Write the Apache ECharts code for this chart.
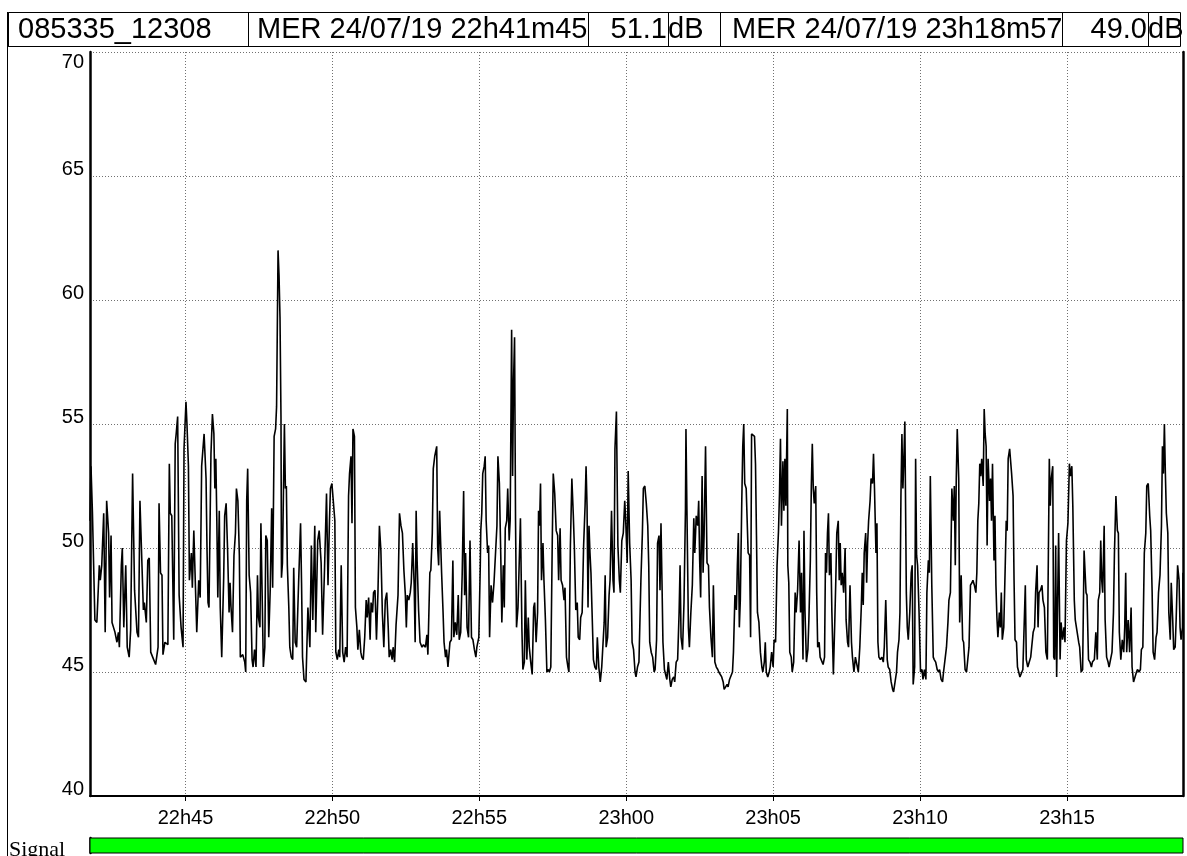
<!DOCTYPE html>
<html>
<head>
<meta charset="utf-8">
<script src="https://cdn.jsdelivr.net/npm/echarts@6/dist/echarts.min.js"></script>
<style>
  html, body { margin: 0; padding: 0; background: #ffffff; }
  #chart { width: 1187px; height: 856px; }
</style>
</head>
<body>
<div id="chart"></div>
<script>
// Recording identity and cursor readouts
const stationId = '085335_12308';
const measureName = 'MER';
const recordDate = '24/07/19';
const startClock = [22, 41, 45];
const endClock = [23, 18, 57];
const cursorValues = [51.1, 49.0];
const unitLabel = 'dB';
const signalLabel = 'Signal';

// Value axis and time ticks
const yMin = 40, yMax = 70, yStep = 5;
const timeTicks = ['22h45', '22h50', '22h55', '23h00', '23h05', '23h10', '23h15'];

// MER readings: [seconds since start, dB]
const merReadings = [
  [0,51.1],[2,53.3],[5,51.4],[7,51.4],[10,47.1],[14,47.0],[19,49.3],[21,48.7],[24,49.3],[28,51.4],
  [31,46.6],[34,51.9],[38,50.6],[40,48.0],[43,50.5],[45,47.0],[48,46.8],[51,46.6],[55,46.2],[58,46.6],
  [60,46.0],[64,49.3],[66,50.0],[69,46.8],[73,49.3],[76,46.0],[80,45.6],[83,46.7],[87,53.0],[91,48.3],
  [96,46.6],[99,46.4],[102,51.9],[106,51.9],[109,47.5],[111,47.8],[115,47.0],[118,49.5],[121,49.6],[124,45.8],
  [128,45.6],[134,45.3],[139,46.0],[141,51.8],[144,49.0],[147,48.9],[149,45.7],[153,46.2],[159,46.1],[162,53.4],
  [164,51.4],[167,51.3],[171,46.3],[174,54.2],[176,54.6],[179,55.3],[182,48.1],[186,46.8],[190,46.0],[192,54.0],
  [196,55.9],[198,55.0],[201,53.3],[203,48.7],[207,49.8],[209,48.4],[212,50.7],
  [218,46.6],[222,48.7],[225,48.0],[228,53.3],[233,54.6],[237,52.8],[239,49.9],[241,47.8],[243,47.6],[247,53.8],
  [250,55.4],[253,54.6],[255,52.4],[257,53.6],[259,51.1],[261,48.0],[264,51.5],[266,47.6],[269,45.6],[273,48.8],
  [275,51.3],[278,51.8],[281,49.9],[284,47.4],[286,48.6],[288,47.6],[291,46.6],[294,49.7],[297,50.6],[299,52.4],
  [302,51.9],[305,49.7],[307,45.6],[312,45.7],[316,45.4],[318,45.0],[320,51.9],[322,53.2],[325,48.9],[328,48.2],
  [331,45.5],[333,45.2],[336,45.9],[339,45.2],[342,48.9],[344,47.2],[347,46.8],[349,51.0],[352,47.6],[354,45.2],
  [357,46.0],[359,50.5],[362,50.3],[365,46.4],[368,48.3],[371,51.6],[373,48.4],[376,54.5],[379,54.8],[381,55.7],
  [384,62.0],[386,61.0],[388,59.3],[390,55.3],[391,48.8],[393,49.4],[397,55.0],[399,52.4],[401,52.5],[403,49.3],
  [406,47.6],[408,46.0],[411,45.6],[414,45.5],[416,49.2],[419,46.2],[422,46.0],[426,48.6],[430,51.0],[432,48.6],
  [434,45.6],[437,44.7],[441,44.6],
  [445,47.6],[449,46.0],[452,50.1],[455,47.1],[459,50.9],[461,46.6],[465,50.3],[468,50.7],[472,49.4],[475,46.5],
  [479,49.2],[483,52.2],[486,48.5],[489,51.1],[491,52.4],[494,52.6],[497,52.6],[500,51.1],[502,45.8],[505,45.5],
  [508,45.9],[510,45.6],[513,49.3],[516,45.8],[519,45.4],[522,46.0],[525,45.6],[528,52.1],[530,53.0],[533,53.7],
  [535,51.0],[537,54.8],[540,54.5],[542,47.6],[545,46.8],[547,45.9],[550,46.7],[553,45.8],[555,45.6],[558,45.5],
  [561,46.4],[564,47.9],[566,47.2],[569,48.0],[572,46.3],[574,47.8],[577,47.4],[579,48.2],[582,48.3],[585,46.3],
  [588,48.2],[591,50.9],[594,49.9],[597,47.4],[600,46.0],[603,47.9],[606,48.2],[609,46.8],[611,45.6],[614,45.9],
  [617,45.5],[619,46.0],[622,45.4],[625,46.9],[629,48.1],[632,51.4],[635,50.9],[638,50.6],[641,49.1],[644,48.1],
  [646,46.8],[648,48.1],[651,47.9],[654,48.2],[656,48.6],[659,50.2],[662,48.5],[664,46.2],[666,51.5],
  [668,49.5],[671,47.5],[674,46.2],[678,46.0],[681,46.1],[685,46.0],[688,46.5],[690,45.7],[694,49.0],[696,49.1],
  [699,50.6],[701,53.2],[704,53.7],[708,54.1],[710,50.0],[712,49.3],[714,51.5],[718,49.0],[721,47.4],[723,46.2],
  [726,45.6],[728,45.9],[731,45.2],[735,46.2],[738,46.3],[741,49.5],[743,46.4],[746,47.0],[749,46.5],[752,48.1],
  [754,46.3],[757,46.6],[760,48.9],[763,52.3],[765,48.1],[767,49.8],[770,46.8],[773,46.4],[776,50.3],[779,46.4],
  [782,46.3],[785,45.9],[788,45.6],[790,46.0],[794,46.4],[797,49.3],[798,50.7],[800,51.4],[802,53.0],[805,53.3],
  [807,53.7],[809,51.1],[812,49.8],[814,50.1],[816,46.4],[819,48.5],[822,47.8],[825,48.6],[828,48.6],[831,50.9],
  [833,53.7],[836,52.6],[839,49.5],[841,47.0],[844,49.3],[846,47.6],[848,50.8],[851,51.1],[853,52.4],[856,50.3],
  [858,51.1],[861,58.8],[863,52.9],[865,56.8],[867,58.5],[869,51.1],[871,46.8],[874,47.6],[876,47.6],[879,51.2],
  [882,46.7],[884,45.1],[887,45.4],
  [889,48.7],[892,45.5],[895,47.2],[897,46.0],[900,45.4],[903,44.9],[906,47.6],[908,47.8],[911,46.2],[914,47.4],
  [916,51.5],[918,50.9],[920,52.6],[922,48.7],[925,50.2],[927,48.7],[930,47.1],[933,45.0],[936,45.1],[938,45.0],
  [941,45.2],[944,50.3],[946,53.0],[949,52.2],[952,50.7],[955,50.5],[957,48.7],[960,50.8],[962,48.7],[965,48.5],
  [968,47.9],[970,48.4],[973,45.6],[976,45.2],[978,45.0],[981,50.1],[984,52.8],[987,51.3],[989,50.1],[992,47.5],
  [995,47.8],[997,46.4],[1000,46.3],[1002,47.2],[1005,47.4],[1008,50.1],[1011,51.7],[1013,53.3],[1015,51.7],[1017,47.6],
  [1019,50.9],[1021,49.8],[1023,49.0],[1025,47.6],[1028,45.5],[1031,45.2],[1034,45.1],[1036,46.4],[1039,45.2],[1042,44.6],
  [1045,45.2],[1047,45.2],[1050,47.0],[1052,48.9],[1054,46.0],[1057,46.4],[1060,48.1],[1062,48.7],[1065,51.5],[1068,48.7],
  [1070,48.2],[1072,54.0],[1075,55.5],[1078,50.1],[1081,48.7],[1083,48.2],[1086,50.3],[1089,50.6],[1092,51.9],[1094,51.1],
  [1097,49.4],[1099,53.1],[1102,50.2],[1105,48.7],[1107,46.2],[1110,45.9],[1113,45.0],[1115,44.8],[1118,45.2],[1121,45.4],
  [1125,48.7],[1128,50.6],[1130,52.4],[1133,52.5],[1136,51.8],[1139,50.9],[1141,49.3],[1143,46.2],[1146,45.8],[1149,45.6],
  [1152,45.0],[1154,45.1],[1157,46.3],[1159,50.2],[1162,50.5],[1164,48.3],[1166,51.0],[1168,48.7],[1170,46.2],[1173,45.1],
  [1175,45.1],[1178,44.7],[1181,45.4],[1184,44.7],[1186,44.4],[1189,44.7],[1192,44.8],[1194,44.6],[1197,45.4],[1200,45.5],
  [1203,47.4],[1205,49.3],[1207,46.4],[1210,45.9],[1213,47.8],[1216,51.6],[1217,54.8],[1219,51.5],[1222,46.8],[1224,46.0],
  [1227,47.4],[1230,48.5],[1233,51.2],[1235,49.8],[1238,51.3],[1241,50.9],[1243,51.9],[1245,49.5],[1247,48.0],[1250,52.9],
  [1252,49.0],[1254,50.5],[1257,54.1],[1260,49.4],[1263,49.3],[1265,47.6],[1268,46.4],[1271,45.6],[1273,48.5],[1276,45.4],
  [1279,45.2],[1282,45.1],[1284,45.0],[1287,45.0],[1290,44.8],[1293,44.6],[1295,44.3],[1298,44.4],[1301,44.5],[1303,44.4],
  [1306,44.7],[1309,44.7],[1312,45.0],[1314,45.8],[1317,48.1],[1320,47.5],[1322,49.3],[1324,50.6],[1326,46.8],[1328,47.9],
  [1331,51.9],[1333,54.1],[1335,55.0],[1337,52.6],[1340,52.4],
  [1344,49.8],[1347,49.7],[1349,46.4],[1351,54.6],[1354,54.6],[1357,54.5],[1359,53.4],[1361,50.5],[1363,47.4],[1366,47.0],
  [1369,45.8],[1372,45.2],[1374,45.0],[1377,45.4],[1379,46.2],[1381,45.0],[1384,44.8],[1387,45.0],[1389,45.2],[1392,45.8],
  [1395,45.2],[1397,46.3],[1400,46.2],[1403,49.3],[1406,50.7],[1408,52.2],[1410,54.4],[1412,50.9],[1415,53.5],[1417,51.5],
  [1419,53.6],[1421,51.7],[1424,55.6],[1425,49.3],[1427,48.6],[1429,45.8],[1432,45.6],[1434,45.0],[1437,45.4],[1440,48.2],
  [1442,47.4],[1445,48.3],[1448,50.3],[1451,47.4],[1453,49.0],[1456,45.5],[1458,50.7],[1460,47.5],[1463,45.4],[1466,45.9],
  [1468,47.1],[1471,49.5],[1473,52.5],[1475,54.2],[1477,52.4],[1479,51.8],[1482,52.5],[1484,48.2],[1486,46.0],[1489,46.2],
  [1491,45.6],[1494,45.6],[1497,45.3],[1500,45.6],[1502,49.8],[1504,49.0],[1506,50.6],[1508,51.4],[1510,48.9],[1513,49.8],
  [1515,47.4],[1518,44.9],[1521,47.1],[1523,48.7],[1525,50.6],[1528,51.1],[1530,48.7],[1532,50.2],[1534,48.5],[1536,49.0],
  [1539,48.2],[1542,50.0],[1544,47.1],[1547,46.2],[1549,46.0],[1552,48.5],[1555,46.2],[1557,45.6],[1560,45.0],[1563,45.6],
  [1569,45.0],[1572,46.0],[1575,47.6],[1577,49.0],[1579,47.7],[1581,49.8],[1584,50.6],[1586,48.6],[1588,50.2],[1590,51.1],
  [1593,51.9],[1595,52.8],[1598,52.6],[1600,53.8],[1602,52.4],[1605,49.8],[1607,51.0],[1609,46.2],[1611,45.6],[1614,45.5],
  [1617,45.6],[1620,45.4],[1622,46.0],[1625,47.9],[1628,45.5],[1630,45.2],[1633,45.1],[1636,44.6],[1639,44.3],[1641,44.2],
  [1644,44.6],[1647,45.0],[1649,45.8],[1652,46.3],[1654,47.4],[1656,52.1],[1658,54.6],[1660,52.4],[1662,53.6],[1664,55.1],
  [1667,48.2],[1669,46.8],[1671,46.3],[1674,47.4],[1677,49.0],[1679,49.3],[1681,44.5],[1684,45.2],[1686,53.6],[1688,49.7],
  [1690,49.3],[1693,47.4],[1696,45.0],[1699,45.1],[1701,44.7],[1704,45.1],[1707,44.7],[1709,48.2],[1712,49.5],[1714,49.0],
  [1716,52.9],[1719,48.5],[1722,45.6],[1724,45.5],[1727,45.4],[1730,45.1],[1733,45.0],[1735,45.1],[1738,44.7],[1741,44.6],
  [1743,45.0],[1746,45.5],[1749,46.0],[1752,47.0],[1754,47.9],[1757,48.2],[1760,52.4],[1763,51.1],[1765,52.5],[1767,49.3],
  [1769,52.8],[1771,54.8],[1774,52.8],[1776,47.0],[1779,48.9],[1782,46.3],[1784,46.2],[1787,45.1],[1790,45.0],
  [1795,46.0],[1798,48.5],[1801,48.6],[1803,48.7],[1806,48.5],[1809,48.2],[1811,49.0],[1813,51.1],[1815,51.8],[1817,53.4],
  [1819,52.9],[1821,53.6],[1824,52.5],[1826,55.6],[1828,54.6],[1830,54.1],[1832,50.1],[1834,53.6],[1837,51.9],[1839,52.8],
  [1841,51.1],[1843,53.4],[1846,49.5],[1848,51.3],[1850,48.5],[1852,47.2],[1854,46.4],[1857,47.4],[1859,46.8],[1861,48.2],
  [1863,46.3],[1866,46.8],[1869,49.3],[1871,51.1],[1873,50.7],[1875,53.6],[1878,54.0],[1880,54.0],[1882,53.0],[1885,52.1],
  [1887,48.7],[1889,46.3],[1892,46.2],[1894,45.2],[1897,45.2],[1899,44.8],[1902,44.8],[1905,45.1],[1908,45.1],[1910,48.5],
  [1912,45.5],[1915,45.2],[1918,45.4],[1921,45.6],[1923,46.0],[1926,46.6],[1929,46.8],[1931,48.2],[1934,49.3],[1936,46.8],
  [1938,48.2],[1941,48.3],[1944,48.5],[1946,47.9],[1949,47.6],[1952,45.8],[1955,45.5],[1957,45.5],[1959,53.6],[1961,51.7],
  [1963,52.8],[1966,53.3],[1968,45.6],[1970,45.5],[1972,50.1],[1974,44.8],[1976,47.9],[1978,50.6],[1981,45.5],[1983,47.0],
  [1986,46.3],[1989,46.8],[1991,46.2],[1994,50.3],[1997,51.0],[2000,53.4],[2002,52.9],[2005,53.3],[2007,51.7],[2010,47.9],
  [2012,47.1],
  [2019,46.2],[2021,46.0],[2024,45.0],[2027,45.1],[2030,49.9],[2034,48.2],[2036,48.1],[2039,45.5],[2042,45.4],[2045,45.2],
  [2047,45.4],[2051,45.5],[2054,46.6],[2057,45.5],[2059,47.9],[2062,48.2],[2064,50.3],[2066,48.7],[2068,48.2],[2071,50.9],
  [2073,47.1],[2076,45.6],[2079,45.4],[2081,45.2],[2084,45.5],[2087,45.8],[2090,47.4],[2092,49.8],[2095,52.1],[2098,50.7],
  [2100,50.6],[2102,46.6],[2105,45.5],[2108,46.3],[2111,45.8],[2113,46.8],[2115,49.0],[2117,45.8],[2120,47.1],[2123,45.8],
  [2126,47.6],[2128,45.2],[2131,44.6],[2134,44.8],[2137,45.0],[2139,45.1],[2142,45.0],[2145,45.1],[2147,45.9],[2150,46.0],
  [2153,49.8],[2156,50.6],[2158,52.5],[2161,52.6],[2164,51.3],[2166,50.7],[2169,48.2],[2171,45.8],[2174,45.5],[2177,46.4],
  [2179,46.6],[2182,48.2],[2185,48.9],[2188,50.9],[2190,54.1],[2192,53.0],[2194,55.0],[2196,53.0],[2198,51.4],[2201,50.6],
  [2203,47.4],[2206,46.3],[2208,48.6],[2211,47.1],[2213,45.9],[2216,46.0],[2218,47.1],[2221,49.3],[2224,48.7],[2226,46.8],
  [2228,46.3],[2231,46.8],[2232,49.0]
];

// Signal status spans: [seconds since start, seconds since start]
const signalSpans = [[0, 2232]];

const FONT = 'Liberation Sans';

function clockToSec(c) { return c[0] * 3600 + c[1] * 60 + (c[2] || 0); }
function clockLabel(c) {
  const p = n => String(n).padStart(2, '0');
  return p(c[0]) + 'h' + p(c[1]) + 'm' + p(c[2]);
}
function tickToSec(s) { const [h, m] = s.split('h').map(Number); return h * 3600 + m * 60; }
function secToTick(v) {
  const h = Math.floor(v / 3600), m = Math.round((v - h * 3600) / 60);
  return h + 'h' + String(m).padStart(2, '0');
}

const startSec = clockToSec(startClock);
const endSec = clockToSec(endClock);
const tickSecs = timeTicks.map(tickToSec);
const lineData = merReadings.map(([t, v]) => [startSec + t, v]);
const spanData = signalSpans.map(([a, b]) => [startSec + a, startSec + b]);

const dotted = { color: '#707070', width: 1, type: [1, 2] };

// Header strip: boxes holding id, cursor times and cursor values
const headerY = 12, headerH = 34;
function box(x, w) {
  return { type: 'rect', shape: { x: x + 0.5, y: headerY + 0.5, width: w, height: headerH },
           style: { fill: null, stroke: '#000', lineWidth: 1 }, silent: true };
}
function txt(x, text, align) {
  return { type: 'text', x: x, y: headerY + headerH / 2 + 1, silent: true,
           style: { text: text, font: '29px "' + FONT + '"', fill: '#000',
                    textAlign: align || 'left', textVerticalAlign: 'middle' } };
}
const header = [
  box(8, 1172),
  box(8, 240), txt(18, stationId),
  box(248, 340), txt(257, measureName + ' ' + recordDate + ' ' + clockLabel(startClock)),
  box(588, 80), txt(667, cursorValues[0].toFixed(1), 'right'), txt(668, unitLabel),
  box(720, 342), txt(732, measureName + ' ' + recordDate + ' ' + clockLabel(endClock)),
  box(1062, 86), txt(1147, cursorValues[1].toFixed(1), 'right'), txt(1148, unitLabel),
  { type: 'line', shape: { x1: 7.5, y1: headerY, x2: 7.5, y2: 856 }, style: { stroke: '#000', lineWidth: 1 }, silent: true },
  { type: 'text', x: 9, y: 861, silent: true,
    style: { text: signalLabel, font: '22px "Liberation Serif"', fill: '#000', textAlign: 'left', textVerticalAlign: 'bottom' } }
];

const chart = echarts.init(document.getElementById('chart'), null, { renderer: 'canvas' });

chart.setOption({
  animation: false,
  backgroundColor: '#ffffff',
  grid: [
    { left: 90, right: 4, top: 52, height: 744 },
    { left: 90, right: 4, top: 838, height: 15 }
  ],
  xAxis: [
    {
      type: 'value', gridIndex: 0, min: startSec, max: endSec, interval: 300,
      axisLine: { show: true, onZero: false, lineStyle: { color: '#000', width: 2 } },
      axisTick: { show: true, customValues: tickSecs, length: 5, lineStyle: { color: '#000', width: 1 } },
      axisLabel: { customValues: tickSecs, formatter: secToTick, color: '#000',
                   fontFamily: FONT, fontSize: 20, margin: 12 },
      splitLine: { show: true, lineStyle: dotted }
    },
    { type: 'value', gridIndex: 1, min: startSec, max: endSec, show: false }
  ],
  yAxis: [
    {
      type: 'value', gridIndex: 0, min: yMin, max: yMax, interval: yStep,
      axisLine: { show: true, lineStyle: { color: '#000', width: 2.5 } },
      axisTick: { show: false },
      axisLabel: {
        color: '#000', fontFamily: FONT, fontSize: 20, margin: 6,
        formatter: v => (v === yMax ? '{t|' + v + '}' : '{b|' + v + '}'),
        rich: {
          t: { fontFamily: FONT, fontSize: 20, color: '#000', padding: [20, 0, 0, 0] },
          b: { fontFamily: FONT, fontSize: 20, color: '#000', padding: [0, 0, 14, 0] }
        }
      },
      splitLine: { show: true, lineStyle: dotted }
    },
    {
      type: 'value', gridIndex: 0, position: 'right', min: yMin, max: yMax, interval: yStep,
      axisLine: { show: true, lineStyle: { color: '#000', width: 2.5 } },
      axisTick: { show: false }, axisLabel: { show: false }, splitLine: { show: false }
    },
    {
      type: 'value', gridIndex: 1, min: 0, max: 1,
      axisLine: { show: true, lineStyle: { color: '#000', width: 2.5 } },
      axisTick: { show: false }, axisLabel: { show: false }, splitLine: { show: false }
    }
  ],
  series: [
    {
      name: measureName, type: 'line', xAxisIndex: 0, yAxisIndex: 0, data: lineData,
      showSymbol: false, silent: true,
      lineStyle: { color: '#000', width: 1.6 }
    },
    {
      name: signalLabel, type: 'custom', xAxisIndex: 1, yAxisIndex: 2, data: spanData, silent: true,
      renderItem: function (params, api) {
        const a = api.coord([api.value(0), 1]);
        const b = api.coord([api.value(1), 0]);
        return { type: 'rect', shape: { x: a[0], y: a[1], width: b[0] - a[0], height: b[1] - a[1] },
                 style: { fill: '#00ff00', stroke: '#000', lineWidth: 1 } };
      }
    }
  ],
  graphic: header
});
</script>
</body>
</html>
